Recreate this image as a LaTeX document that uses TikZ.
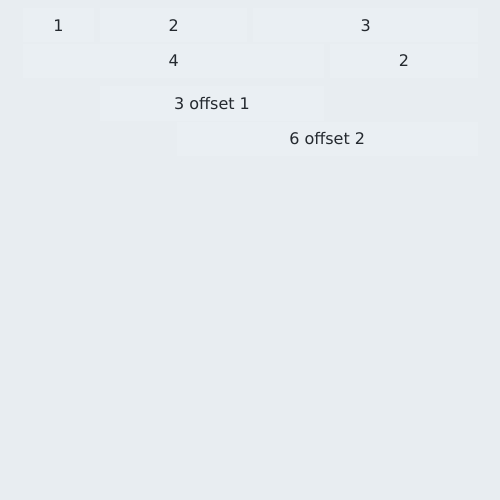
\documentclass[tikz,border=0pt]{standalone}
\usepackage{fontspec}
\setmainfont{DejaVu Sans}
\definecolor{bgc}{HTML}{E8EDF1}
\definecolor{boxc}{HTML}{EAEFF3}
\definecolor{txtc}{HTML}{24292F}
\begin{document}
\begin{tikzpicture}[x=1pt,y=-1pt,
  cell/.style={fill=boxc,draw=none,inner sep=0pt,outer sep=0pt,text=txtc,
    minimum height=34pt,font=\fontsize{16}{18}\selectfont}]
\fill[bgc] (0,0) rectangle (500,500);
\useasboundingbox (0,0) rectangle (500,500);
% row 1
\node[cell,minimum width=70.8pt] (a1) at (58.4,25.5) {1};
\node[cell,minimum width=147.6pt] (a2) at (173.6,25.5) {2};
\node[cell,minimum width=224.4pt] (a3) at (365.6,25.5) {3};
% row 2
\node[cell,minimum width=301.2pt] (b1) at (173.6,61) {4};
\node[cell,minimum width=147.6pt] (b2) at (404,61) {2};
% row 3
\node[cell,minimum width=224.4pt] (c1) at (212,103.5) {3 offset 1};
% row 4
\node[cell,minimum width=301.2pt] (d1) at (327.2,139) {6 offset 2};
\end{tikzpicture}
\end{document}
